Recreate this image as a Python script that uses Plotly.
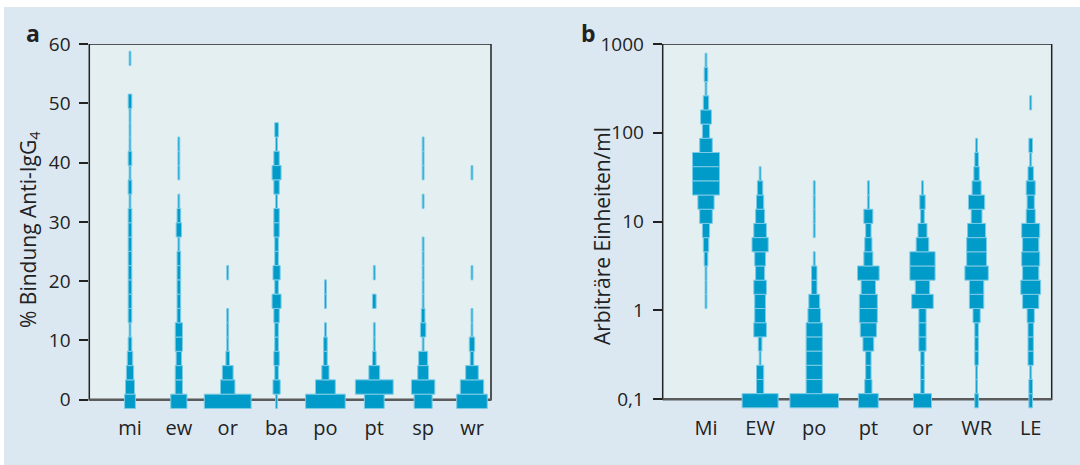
import math
import plotly.graph_objects as go

# ---------------- data: panel a (% Bindung Anti-IgG4), counts per 2.41%-bin from 0 upward
cats_a = ["mi", "ew", "or", "ba", "po", "pt", "sp", "wr"]
mi_a = [6, 5, 4, 3, 2, 1, 2, 2, 2, 2, 2, 2, 2, 2, 1, 2, 1, 2, 1, 1, 1, 2, 0, 0, 1]
ew_a = [9, 4, 4, 3, 4, 4, 2, 2, 2, 2, 2, 1, 3, 2, 1, 0, 1, 1, 1]
or_a = [26, 8, 6, 2, 1, 1, 1, 0, 0, 1]
ba_a = [1, 4, 2, 3, 2, 2, 3, 5, 2, 4, 2, 2, 3, 3, 1, 3, 5, 3, 1, 2]
po_a = [22, 11, 4, 2, 2, 1, 0, 1, 1]
pt_a = [11, 21, 6, 2, 1, 1, 0, 2, 0, 1]
sp_a = [10, 13, 6, 5, 1, 3, 2, 1, 1, 1, 1, 1, 0, 0, 1, 0, 1, 1, 1]
wr_a = [17, 13, 7, 2, 3, 1, 1, 0, 0, 1, 0, 0, 0, 0, 0, 0, 1]
bin_a_first = -0.27     # centre of first bin (%)
bin_a_step = 2.41       # bin height (%)
yticks_a = [0, 10, 20, 30, 40, 50, 60]

# ---------------- data: panel b (Arbitraere Einheiten/ml, log10 bins from 0,1 upward)
cats_b = ["Mi", "EW", "po", "pt", "or", "WR", "LE"]
Mi_b = [0, 0, 0, 0, 0, 0, 0, 1, 1, 1, 2, 3, 4, 7, 9, 15, 15, 15, 7, 4, 6, 3, 1, 2, 1]
EW_b = [20, 4, 4, 1, 2, 7, 6, 6, 7, 5, 6, 9, 7, 5, 4, 3, 1]
po_b = [27, 9, 9, 9, 9, 9, 7, 6, 3, 3, 1, 0, 1, 1, 1, 1]
pt_b = [11, 4, 3, 3, 6, 9, 10, 10, 8, 12, 5, 4, 3, 5, 1, 1]
or_b = [10, 2, 2, 2, 4, 4, 4, 12, 8, 14, 14, 7, 5, 2, 3, 1]
WR_b = [2, 1, 1, 2, 2, 2, 4, 8, 8, 13, 11, 11, 10, 6, 9, 5, 3, 2, 1]
LE_b = [2, 2, 1, 3, 3, 3, 4, 9, 11, 9, 10, 9, 10, 5, 4, 5, 3, 1, 2, 0, 0, 1]
bin_b_first = -1.016    # centre of first bin (log10 units)
bin_b_step = 0.1597     # bin height (log10 units)
yticks_b = [0.1, 1, 10, 100, 1000]
yticktext_b = ["0,1", "1", "10", "100", "1000"]

# ---------------- layout constants
W, H = 1080, 465
M_T, M_B = 44, 56
PLOT_H = H - M_T - M_B
dom_a = [89.3 / W, 491 / W]
dom_b = [662.7 / W, 1051.7 / W]
xr_a = [0.167, 8.389]
xr_b = [0.2, 7.388]
yr_a = [-1.569, 60]
yr_b = [-1.109, 3]
PX_PER_COUNT = 1.8

BAR = "#009bc9"
BAR_EDGE = "#7ccbe6"
OUTER = "#dbe8f2"
INNER = "#e3eff0"
INK = "#222222"
FONT = "Open Sans"


def build(groups, first, step, dom, xr):
    px_per_unit = (dom[1] - dom[0]) * W / (xr[1] - xr[0])
    unit = PX_PER_COUNT / px_per_unit
    ys, lens, bases = [], [], []
    for i, counts in enumerate(groups, start=1):
        for k, n in enumerate(counts):
            if n == 0:
                continue
            ys.append(first + k * step)
            lens.append(n * unit)
            bases.append(i - n * unit / 2)
    return ys, lens, bases


ya, la, ba_ = build([mi_a, ew_a, or_a, ba_a, po_a, pt_a, sp_a, wr_a],
                    bin_a_first, bin_a_step, dom_a, xr_a)
yb, lb, bb_ = build([Mi_b, EW_b, po_b, pt_b, or_b, WR_b, LE_b],
                    bin_b_first, bin_b_step, dom_b, xr_b)

fig = go.Figure()
fig.add_trace(go.Bar(orientation="h", y=ya, x=la, base=ba_, width=bin_a_step,
                     marker=dict(color=BAR, line=dict(color=BAR_EDGE, width=1)),
                     xaxis="x", yaxis="y", showlegend=False, hoverinfo="skip"))
fig.add_trace(go.Bar(orientation="h", y=yb, x=lb, base=bb_, width=bin_b_step,
                     marker=dict(color=BAR, line=dict(color=BAR_EDGE, width=1)),
                     xaxis="x2", yaxis="y2", showlegend=False, hoverinfo="skip"))

xfont = dict(family=FONT, size=20, color=INK)
yfont = dict(family=FONT, size=19, color=INK)
common_x = dict(showgrid=False, zeroline=False, showline=False, ticks="",
                tickfont=xfont, fixedrange=True, ticklabelstandoff=5)
common_y = dict(showgrid=False, zeroline=False, showline=False, ticks="outside",
                ticklen=9, tickwidth=1.5, tickcolor=INK, tickfont=yfont,
                ticklabelstandoff=5, fixedrange=True)

fig.update_layout(
    width=W, height=H,
    margin=dict(l=0, r=0, t=M_T, b=M_B, pad=0),
    paper_bgcolor=OUTER, plot_bgcolor=OUTER,
    barmode="overlay",
    xaxis=dict(domain=dom_a, range=xr_a, tickvals=list(range(1, len(cats_a) + 1)),
               ticktext=cats_a, anchor="y", **common_x),
    yaxis=dict(domain=[0, 1], range=yr_a, tickvals=yticks_a, anchor="x", **common_y),
    xaxis2=dict(domain=dom_b, range=xr_b, tickvals=list(range(1, len(cats_b) + 1)),
                ticktext=cats_b, anchor="y2", **common_x),
    yaxis2=dict(domain=[0, 1], range=yr_b,
                tickvals=[math.log10(v) for v in yticks_b], ticktext=yticktext_b,
                anchor="x2", **common_y),
)

# thin white page edge (top and left) as in the reference scan
fig.add_shape(type="rect", xref="paper", yref="paper", x0=-0.01, x1=1.01,
              y0=(H - M_B - 7) / PLOT_H, y1=(H - M_B + 2) / PLOT_H,
              fillcolor="white", line=dict(width=0), layer="below")
fig.add_shape(type="rect", xref="paper", yref="paper", x0=-0.01, x1=4 / W,
              y0=-0.5, y1=1.5, fillcolor="white", line=dict(width=0), layer="below")

# plot frames (inner background only above the baseline) and grey baselines
for xref, yref, y0, y1 in [("x domain", "y", 0, 60), ("x2 domain", "y2", -1, 3)]:
    fig.add_shape(type="rect", xref=xref, yref=yref, x0=0, x1=1, y0=y0, y1=y1,
                  fillcolor=INNER, line=dict(color=INK, width=1.5), layer="below")
    fig.add_shape(type="line", xref=xref, yref=yref, x0=0, x1=1, y0=y0, y1=y0,
                  line=dict(color="#5b5b5b", width=2.5), layer="below")

# axis titles and panel letters
fig.add_annotation(text="% Bindung Anti-IgG<sub>4</sub>", xref="paper", yref="paper",
                   x=29 / W, y=(H - M_B - 230) / PLOT_H, textangle=-90, showarrow=False,
                   font=dict(family=FONT, size=21, color=INK), xanchor="center", yanchor="middle")
fig.add_annotation(text="Arbiträre Einheiten/ml", xref="paper", yref="paper",
                   x=602 / W, y=(H - M_B - 236) / PLOT_H, textangle=-90, showarrow=False,
                   font=dict(family=FONT, size=21, color=INK), xanchor="center", yanchor="middle")
fig.add_annotation(text="<b>a</b>", xref="paper", yref="paper",
                   x=32.5 / W, y=(H - M_B - 33) / PLOT_H, showarrow=False,
                   font=dict(family=FONT, size=23, color=INK), xanchor="center", yanchor="middle")
fig.add_annotation(text="<b>b</b>", xref="paper", yref="paper",
                   x=588.5 / W, y=(H - M_B - 33) / PLOT_H, showarrow=False,
                   font=dict(family=FONT, size=23, color=INK), xanchor="center", yanchor="middle")

fig.write_html("out.html", config={"displayModeBar": False},
               post_script="document.body.style.margin='0px';")
